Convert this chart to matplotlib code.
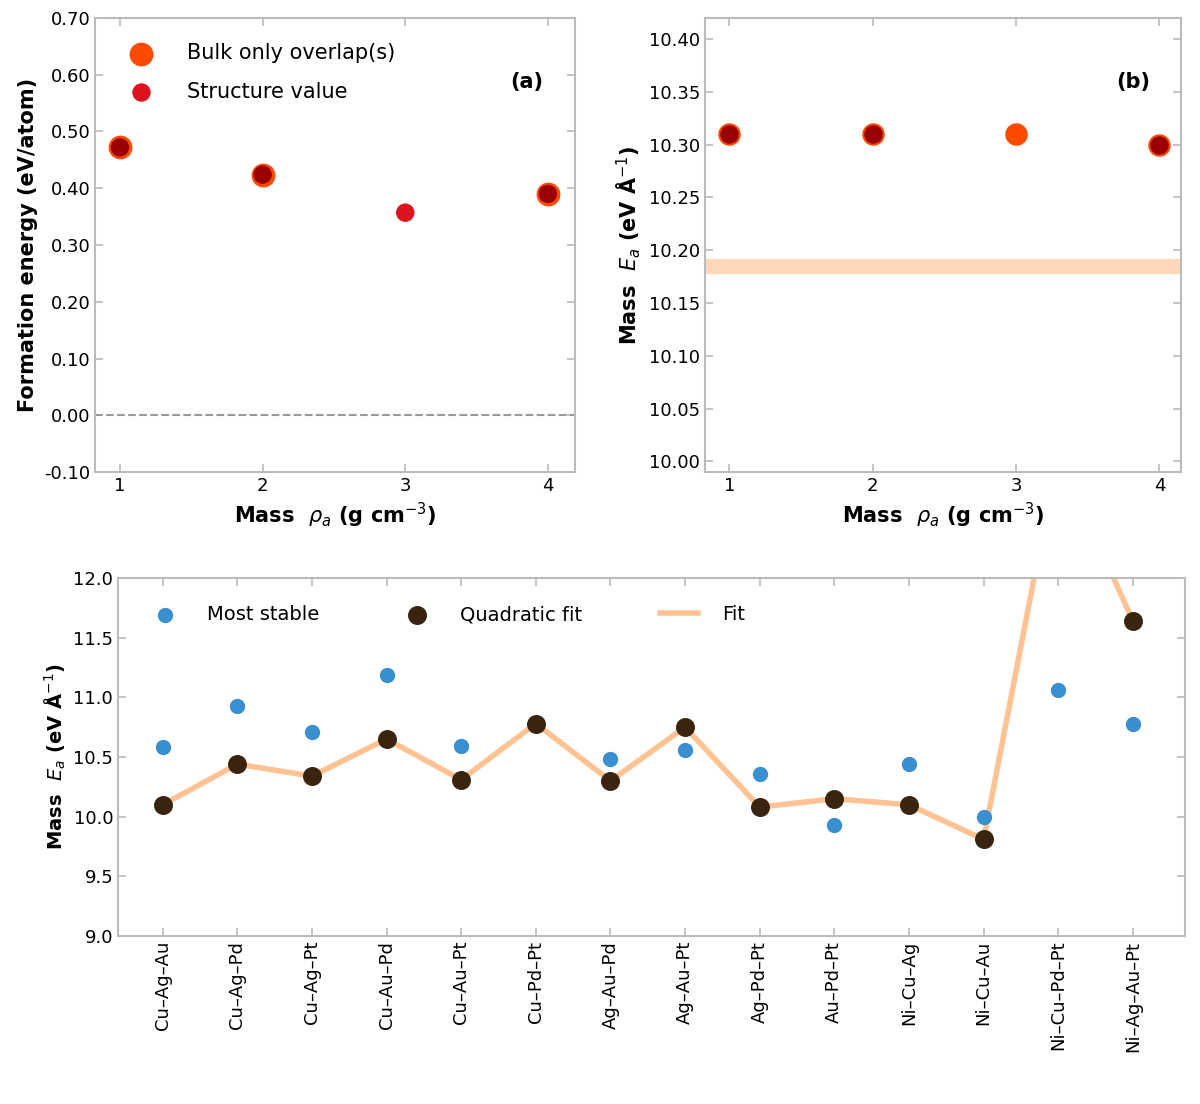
import numpy as np
import matplotlib
matplotlib.use("Agg")
import matplotlib.pyplot as plt

# ---- data ----
x_top = [1, 2, 3, 4]
xtick_top = ["1", "2", "3", "4"]
a_bulk = [0.472, 0.424, np.nan, 0.390]
a_struct = [0.472, 0.424, 0.357, 0.390]
b_bulk = [10.31, 10.31, 10.31, 10.30]
b_struct = [10.31, 10.31, np.nan, 10.30]
b_ref = 10.185

cats = ["Cu–Ag–Au", "Cu–Ag–Pd", "Cu–Ag–Pt", "Cu–Au–Pd", "Cu–Au–Pt", "Cu–Pd–Pt",
        "Ag–Au–Pd", "Ag–Au–Pt", "Ag–Pd–Pt", "Au–Pd–Pt", "Ni–Cu–Ag", "Ni–Cu–Au",
        "Ni–Cu–Pd–Pt", "Ni–Ag–Au–Pt"]
most_stable = [10.58, 10.93, 10.71, 11.19, 10.59, 10.78, 10.48, 10.56, 10.36, 9.93,
               10.44, 10.00, 11.06, 10.78]
quad_fit = [10.10, 10.44, 10.34, 10.65, 10.31, 10.78, 10.30, 10.75, 10.08, 10.15,
            10.10, 9.81, np.nan, 11.64]
fit_line = [10.10, 10.44, 10.34, 10.65, 10.31, 10.78, 10.30, 10.75, 10.08, 10.15,
            10.10, 9.81, 13.04, 11.64]

plt.rcParams['font.family'] = ['DejaVu Sans']
fig = plt.figure(figsize=(12, 11.04), dpi=100)

c_or = "#ff4a00"
c_red = "#dc1420"
c_dark = "#9a0000"
frame = "#bbbbbb"

def style(ax):
    for s in ax.spines.values():
        s.set_color(frame)
        s.set_linewidth(1.5)
    ax.tick_params(direction="in", top=True, right=True, length=6, width=1.2,
                   color=frame, labelsize=13)

def overlap_colors(p, q, both, single):
    return [both if (np.isfinite(a) and np.isfinite(b)) else single for a, b in zip(p, q)]

# (a)
ax1 = fig.add_axes([95/1200, 1 - 472/1104, 480/1200, 454/1104])
ax1.scatter(x_top, a_bulk, s=260, color=c_or, zorder=3, label="Bulk only overlap(s)")
ax1.scatter(x_top, a_struct, s=150, color=overlap_colors(a_bulk, a_struct, c_dark, c_red),
            zorder=4)
ax1.scatter([], [], s=150, color=c_red, label="Structure value")
ax1.axhline(0.0, color="#999999", ls="--", lw=1.5)
ax1.set_xlim(0.825, 4.19)
ax1.set_ylim(-0.1, 0.7)
ax1.set_yticks(np.arange(-0.1, 0.71, 0.1))
ax1.set_yticklabels([f"{v:.2f}" for v in np.arange(-0.1, 0.71, 0.1)])
ax1.set_xticks(x_top)
ax1.set_xticklabels(xtick_top)
ax1.set_ylabel("Formation energy (eV/atom)", fontsize=15, fontweight="bold")
ax1.set_xlabel(r"Mass  $\rho_a$ (g cm$^{-3}$)", fontsize=15, fontweight="bold")
ax1.text(0.90, 0.86, "(a)", transform=ax1.transAxes, fontsize=15, fontweight="bold",
         ha="center", va="center")
ax1.legend(loc="upper left", fontsize=15, frameon=False, handletextpad=1.2,
           borderaxespad=0.8, labelspacing=0.9)
style(ax1)

# (b)
ax2 = fig.add_axes([705/1200, 1 - 472/1104, 476/1200, 454/1104])
ax2.scatter(x_top, b_bulk, s=230, color=c_or, zorder=3)
ax2.scatter(x_top, b_struct, s=150, color=c_dark, zorder=4)
ax2.axhline(b_ref, color="#ffc8a0", lw=11, alpha=0.7)
ax2.set_xlim(0.83, 4.15)
ax2.set_ylim(9.99, 10.42)
yt = np.arange(10.0, 10.401, 0.05)
ax2.set_yticks(yt)
ax2.set_yticklabels([f"{v:.2f}" for v in yt])
ax2.set_xticks(x_top)
ax2.set_xticklabels(xtick_top)
ax2.set_ylabel(r"Mass  $E_{a}$ (eV Å$^{-1}$)", fontsize=15, fontweight="bold")
ax2.set_xlabel(r"Mass  $\rho_a$ (g cm$^{-3}$)", fontsize=15, fontweight="bold")
ax2.text(0.90, 0.86, "(b)", transform=ax2.transAxes, fontsize=15, fontweight="bold",
         ha="center", va="center")
style(ax2)

# (c)
ax3 = fig.add_axes([118/1200, 1 - 936/1104, 1067/1200, 358/1104])
xi = np.arange(len(cats))
ax3.plot(xi, fit_line, color="#ffb880", lw=4, alpha=0.85, zorder=2, label="Fit")
ax3.scatter(xi, most_stable, s=100, color="#3a8fd0", zorder=3, label="Most stable")
ax3.scatter(xi, quad_fit, s=160, color="#3a2410", zorder=4, label="Quadratic fit")
ax3.set_xlim(-0.6, len(cats) - 0.3)
ax3.set_ylim(9.0, 12.0)
yt3 = np.arange(9.0, 12.01, 0.5)
ax3.set_yticks(yt3)
ax3.set_yticklabels([f"{v:.1f}" for v in yt3])
ax3.set_xticks(xi)
ax3.set_xticklabels(cats, rotation=90, fontsize=13)
ax3.set_ylabel(r"Mass  $E_a$ (eV Å$^{-1}$)", fontsize=14, fontweight="bold")
h, l = ax3.get_legend_handles_labels()
order = [1, 2, 0]
ax3.legend([h[i] for i in order], [l[i] for i in order], loc="upper left", ncol=3,
           fontsize=14, frameon=False, borderaxespad=1.0, columnspacing=4,
           handletextpad=1.2)
style(ax3)

fig.savefig("out.png", dpi=100)
